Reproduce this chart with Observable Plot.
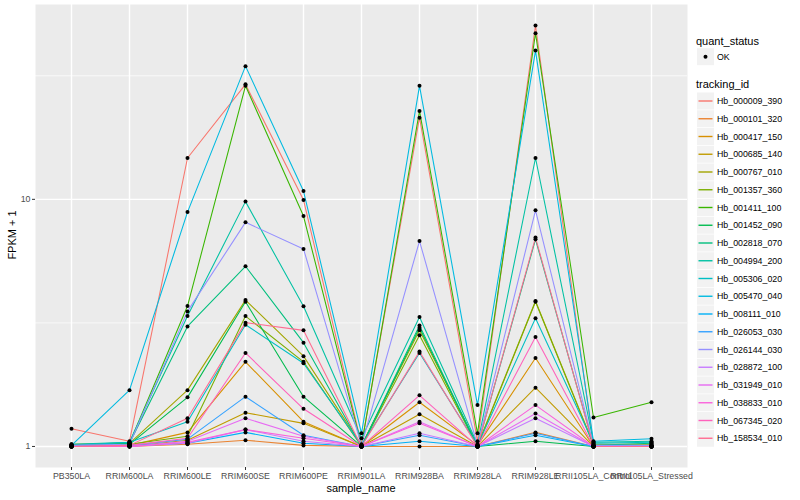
<!DOCTYPE html>
<html><head><meta charset="utf-8">
<script src="https://cdn.jsdelivr.net/npm/d3@7"></script>
<script src="https://cdn.jsdelivr.net/npm/@observablehq/plot@0.6"></script>
<style>
body{margin:0;background:#fff;font-family:"Liberation Sans",Arial,sans-serif;}
#wrap{position:relative;width:800px;height:500px;overflow:hidden;}
#chart{position:absolute;left:0;top:0;}
#chart svg{overflow:visible;}
#legend{position:absolute;left:690px;top:0;}
.ttl{position:absolute;font-size:11px;color:#000;white-space:nowrap;line-height:1;}
</style></head><body>
<div id="wrap"><div id="chart"></div><div id="legend"></div>
<div class="ttl" id="xt" style="left:361px;top:483px;transform:translateX(-50%);">sample_name</div>
<div class="ttl" id="yt" style="left:12px;top:235px;transform:translate(-50%,-50%) rotate(-90deg);">FPKM + 1</div>
</div>
<script>
const samples = ["PB350LA","RRIM600LA","RRIM600LE","RRIM600SE","RRIM600PE","RRIM901LA","RRIM928BA","RRIM928LA","RRIM928LE","RRII105LA_Control","RRII105LA_Stressed"];
const trackingIds = ["Hb_000009_390","Hb_000101_320","Hb_000417_150","Hb_000685_140","Hb_000767_010","Hb_001357_360","Hb_001411_100","Hb_001452_090","Hb_002818_070","Hb_004994_200","Hb_005306_020","Hb_005470_040","Hb_008111_010","Hb_026053_030","Hb_026144_030","Hb_028872_100","Hb_031949_010","Hb_038833_010","Hb_067345_020","Hb_158534_010"];
// FPKM + 1, one row per tracking_id, columns in sample order
const fpkmPlus1 = [
  [1.18,1.05,14.7,29.2,9.94,1.02,21.4,1.05,50.5,1.01,1.00],
  [1.00,1.00,1.02,1.06,1.01,1.00,1.00,1.00,1.14,1.00,1.00],
  [1.01,1.01,1.14,2.20,1.26,1.00,1.51,1.01,2.28,1.00,1.00],
  [1.00,1.00,1.06,1.37,1.24,1.00,1.35,1.00,1.73,1.00,1.01],
  [1.02,1.03,1.69,3.91,2.32,1.01,2.95,1.01,3.88,1.02,1.02],
  [1.01,1.02,1.10,3.37,2.20,1.00,2.82,1.00,3.85,1.01,1.01],
  [1.01,1.03,3.70,28.8,8.56,1.01,22.8,1.13,47.0,1.31,1.51],
  [1.00,1.02,1.58,3.85,1.59,1.00,3.02,1.00,1.05,1.00,1.00],
  [1.00,1.03,3.06,5.36,2.63,1.00,3.09,1.00,6.89,1.01,1.03],
  [1.02,1.04,3.37,9.79,3.69,1.08,3.34,1.02,14.7,1.04,1.05],
  [1.01,1.04,1.26,3.11,2.17,1.01,2.39,1.01,3.30,1.03,1.04],
  [1.01,1.69,8.88,34.6,10.8,1.13,28.8,1.47,40.0,1.05,1.075],
  [1.00,1.01,1.03,1.14,1.03,1.00,1.05,1.00,1.11,1.00,1.00],
  [1.00,1.01,1.07,1.59,1.11,1.00,1.11,1.00,1.13,1.00,1.00],
  [1.01,1.02,3.52,8.07,6.30,1.01,6.78,1.01,9.03,1.01,1.01],
  [1.00,1.00,1.03,1.17,1.05,1.00,1.13,1.00,1.30,1.00,1.00],
  [1.00,1.00,1.05,1.30,1.10,1.00,1.26,1.00,1.36,1.00,1.00],
  [1.00,1.00,1.04,1.17,1.08,1.00,1.24,1.00,1.47,1.00,1.00],
  [1.00,1.01,1.08,2.39,1.42,1.00,1.61,1.00,2.77,1.00,1.00],
  [1.00,1.01,1.30,3.17,2.95,1.00,2.42,1.00,7.00,1.00,1.00]
];
const quantStatus = ["OK"];
const yTicks = [1, 10];
const yMinor = [Math.sqrt(10), Math.sqrt(1000)];

const palette = ["#F8766D","#EA8331","#D89000","#C09B00","#A3A500","#7CAE00","#39B600","#00BB4E","#00BF7D","#00C1A3","#00BFC4","#00BAE0","#00B0F6","#35A2FF","#9590FF","#C77CFF","#E76BF3","#FA62DB","#FF62BC","#FF6C91"];

const rows = [];
trackingIds.forEach((id, i) => samples.forEach((s, j) => rows.push({id, sample: s, value: fpkmPlus1[i][j], status: quantStatus[0]})));

const logMin = 0, logMax = Math.log10(d3.max(rows, d => d.value));
const pad = 0.05 * (logMax - logMin);

const plot = Plot.plot({
  width: 690, height: 500,
  marginLeft: 35, marginRight: 3, marginTop: 4, marginBottom: 33,
  style: {fontFamily: "Liberation Sans, Arial, sans-serif", background: "transparent", overflow: "visible"},
  x: {type: "point", domain: samples, padding: 0.6, label: null},
  y: {type: "log", domain: [10 ** (logMin - pad), 10 ** (logMax + pad)], label: null},
  color: {domain: trackingIds, range: palette},
  marks: [
    Plot.frame({fill: "#EBEBEB", stroke: null}),
    Plot.ruleY(yMinor, {stroke: "white", strokeWidth: 0.7}),
    Plot.ruleY(yTicks, {stroke: "white", strokeWidth: 1.4}),
    Plot.ruleX(samples, {stroke: "white", strokeWidth: 1.4}),
    Plot.line(rows, {x: "sample", y: "value", z: "id", stroke: "id", strokeWidth: 1.07}),
    Plot.dot(rows, {x: "sample", y: "value", r: 2, fill: "black", stroke: null}),
    Plot.axisX({tickSize: 3, tickPadding: 2, fontSize: 8.8, stroke: "#333333", fill: "#4D4D4D", label: null}),
    Plot.axisY({ticks: yTicks, tickFormat: d => String(d), tickSize: 3, tickPadding: 2, fontSize: 8.8, stroke: "#333333", fill: "#4D4D4D", label: null})
  ]
});
document.getElementById("chart").appendChild(plot);

// legend (right side)
const colorScale = plot.scale("color");
const lg = d3.select("#legend").append("svg").attr("width", 110).attr("height", 500)
  .style("font-family", "Liberation Sans, Arial, sans-serif");
const ox = -690;
lg.append("text").attr("x", 696 + ox).attr("y", 40.7).attr("dy", "0.35em").attr("font-size", 11).text("quant_status");
quantStatus.forEach((q, i) => {
  const cy = 56.7 + i * 17.75;
  lg.append("rect").attr("x", 697 + ox).attr("y", cy - 8.5).attr("width", 17).attr("height", 17).attr("fill", "#F2F2F2");
  lg.append("circle").attr("cx", 705.5 + ox).attr("cy", cy).attr("r", 2).attr("fill", "black");
  lg.append("text").attr("x", 717 + ox).attr("y", cy).attr("dy", "0.35em").attr("font-size", 8.8).text(q);
});
lg.append("text").attr("x", 696 + ox).attr("y", 84.5).attr("dy", "0.35em").attr("font-size", 11).text("tracking_id");
colorScale.domain.forEach((id, i) => {
  const cy = 101 + i * 17.75;
  lg.append("rect").attr("x", 697 + ox).attr("y", cy - 8.5).attr("width", 17).attr("height", 17).attr("fill", "#F2F2F2");
  lg.append("line").attr("x1", 698.5 + ox).attr("x2", 712.5 + ox).attr("y1", cy).attr("y2", cy)
    .attr("stroke", colorScale.range[i]).attr("stroke-width", 1.4);
  lg.append("text").attr("x", 717 + ox).attr("y", cy).attr("dy", "0.35em").attr("font-size", 8.8).text(id);
});
</script>
</body></html>
